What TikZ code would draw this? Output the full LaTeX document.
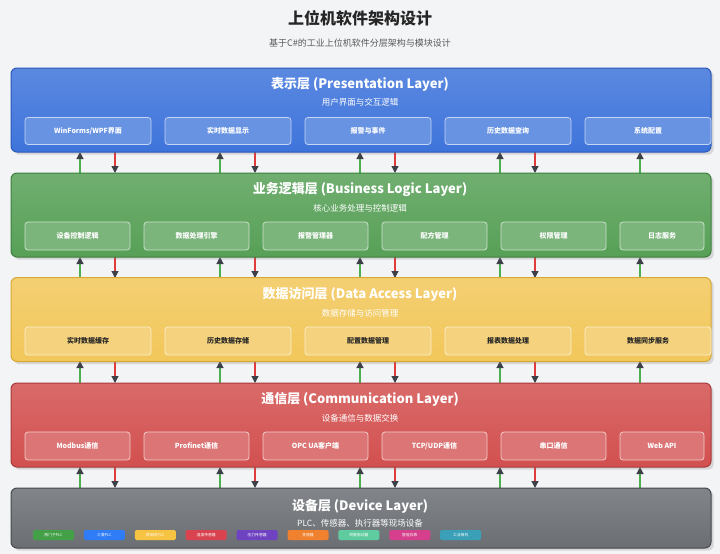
\documentclass[tikz,border=0pt]{standalone}
\usepackage{fontspec}
\setmainfont{Noto Sans CJK SC}
\usetikzlibrary{arrows.meta,shadows}
\definecolor{bg}{HTML}{F3F4F6}
\definecolor{lblue}{HTML}{3E74DB}\definecolor{lblueD}{HTML}{2A58B8}
\definecolor{lgreen}{HTML}{57A057}\definecolor{lgreenD}{HTML}{3E7F3E}
\definecolor{lyel}{HTML}{F2C75A}\definecolor{lyelD}{HTML}{D9A834}
\definecolor{lred}{HTML}{D2504F}\definecolor{lredD}{HTML}{A83A3C}
\definecolor{lgray}{HTML}{6B6F74}\definecolor{lgrayD}{HTML}{45484C}
\definecolor{upc}{HTML}{4CAF50}\definecolor{dnc}{HTML}{E03A3A}\definecolor{tipc}{HTML}{3C4048}
\tikzset{x=1pt,y=-1pt,
 layer/.style={draw=#1D,line width=1pt,rounded corners=6pt,top color=#1!85!white,bottom color=#1,drop shadow={opacity=0.25}},
 mod/.style={draw=white!70!#1,line width=0.8pt,rounded corners=3pt,fill=white!22!#1,text=white,font=\fontsize{7}{8}\selectfont\bfseries,inner sep=0pt},
 ltitle/.style={text=white,font=\fontsize{13}{14}\selectfont\bfseries},
 lsub/.style={text=white,font=\fontsize{8.5}{9}\selectfont},
 chip/.style={fill=#1,rounded corners=1.5pt,text=white,font=\fontsize{3.8}{4}\selectfont,minimum width=41pt,minimum height=10pt,inner sep=0pt},
 tip/.style={-{Triangle[length=7pt,width=7pt,fill=tipc,color=tipc]}},
 up/.style={draw=upc,line width=1.2pt,tip},
 dn/.style={draw=dnc,line width=1.2pt,tip}}
\begin{document}
\begin{tikzpicture}
\fill[bg] (0,0) rectangle (720,554);
\node[font=\fontsize{16}{17}\selectfont\bfseries,text=black!85] (title) at (360,18) {上位机软件架构设计};
\node[font=\fontsize{9}{10}\selectfont,text=black!65] (subtitle) at (360,43) {基于C\#的工业上位机软件分层架构与模块设计};
% arrows
\foreach \ya/\yb [count=\k] in {152/173,257/278,361/383,467/488}{
 \foreach \x [count=\j] in {80,220,360,500,640}{
  \coordinate (ua\k\j) at (\x,\yb); \coordinate (ub\k\j) at (\x,\ya);
  \draw[up] (ua\k\j) -- (ub\k\j);
 }
 \foreach \x [count=\j] in {115,255,395,535}{
  \coordinate (da\k\j) at (\x,\ya); \coordinate (db\k\j) at (\x,\yb);
  \draw[dn] (da\k\j) -- (db\k\j);
 }}
% layers
\node[layer=lblue,minimum width=700pt,minimum height=84pt,inner sep=0pt] (L1) at (361,110) {};
\node[layer=lgreen,minimum width=700pt,minimum height=84pt,inner sep=0pt] (L2) at (361,215) {};
\node[layer=lyel,minimum width=700pt,minimum height=84pt,inner sep=0pt] (L3) at (361,319.5) {};
\node[layer=lred,minimum width=700pt,minimum height=84pt,inner sep=0pt] (L4) at (361,425) {};
\node[layer=lgray,minimum width=700pt,minimum height=60pt,inner sep=0pt] (L5) at (361,518) {};
\node[ltitle] (t1) at (360,84) {表示层 (Presentation Layer)};
\node[lsub] (s1) at (360,102) {用户界面与交互逻辑};
\node[ltitle] (t2) at (360,189) {业务逻辑层 (Business Logic Layer)};
\node[lsub] (s2) at (360,208) {核心业务处理与控制逻辑};
\node[ltitle] (t3) at (360,294) {数据访问层 (Data Access Layer)};
\node[lsub] (s3) at (360,313) {数据存储与访问管理};
\node[ltitle] (t4) at (360,399) {通信层 (Communication Layer)};
\node[lsub] (s4) at (360,418) {设备通信与数据交换};
\node[ltitle] (t5) at (360,506) {设备层 (Device Layer)};
\node[lsub] (s5) at (360,523) {PLC、传感器、执行器等现场设备};
% modules
\foreach \t [count=\i] in {WinForms/WPF界面,实时数据显示,报警与事件,历史数据查询,系统配置}
  \node[mod=lblue,minimum width=126pt,minimum height=27pt] (m1\i) at ({25+63+(\i-1)*140},131) {\t};
\foreach \t [count=\i] in {设备控制逻辑,数据处理引擎,报警管理器,配方管理,权限管理}
  \node[mod=lgreen,minimum width=105pt,minimum height=28pt] (m2\i) at ({25+52.5+(\i-1)*119},236) {\t};
\node[mod=lgreen,minimum width=84pt,minimum height=28pt] (m26) at (662,236) {日志服务};
\foreach \t [count=\i] in {实时数据缓存,历史数据存储,配置数据管理,报表数据处理,数据同步服务}
  \node[mod=lyel,text=black!85,minimum width=126pt,minimum height=28pt] (m3\i) at ({25+63+(\i-1)*140},341) {\t};
\foreach \t [count=\i] in {Modbus通信,Profinet通信,OPC UA客户端,TCP/UDP通信,串口通信}
  \node[mod=lred,minimum width=105pt,minimum height=28pt] (m4\i) at ({25+52.5+(\i-1)*119},446) {\t};
\node[mod=lred,minimum width=84pt,minimum height=28pt] (m46) at (662,446) {Web API};
% chips
\foreach \t/\c [count=\i] in {西门子PLC/43A047,三菱PLC/2F7CF6,欧姆龙PLC/F6C342,温度传感器/D9434F,压力传感器/6F42C1,变频器/F0812F,伺服驱动器/5FCCA0,智能仪表/D63F8C,工业相机/3AA0B8}{
  \definecolor{cc}{HTML}{\c}
  \node[chip=cc] (c\i) at ({53.5+(\i-1)*50.9},535) {\t};}
\end{tikzpicture}
\end{document}
